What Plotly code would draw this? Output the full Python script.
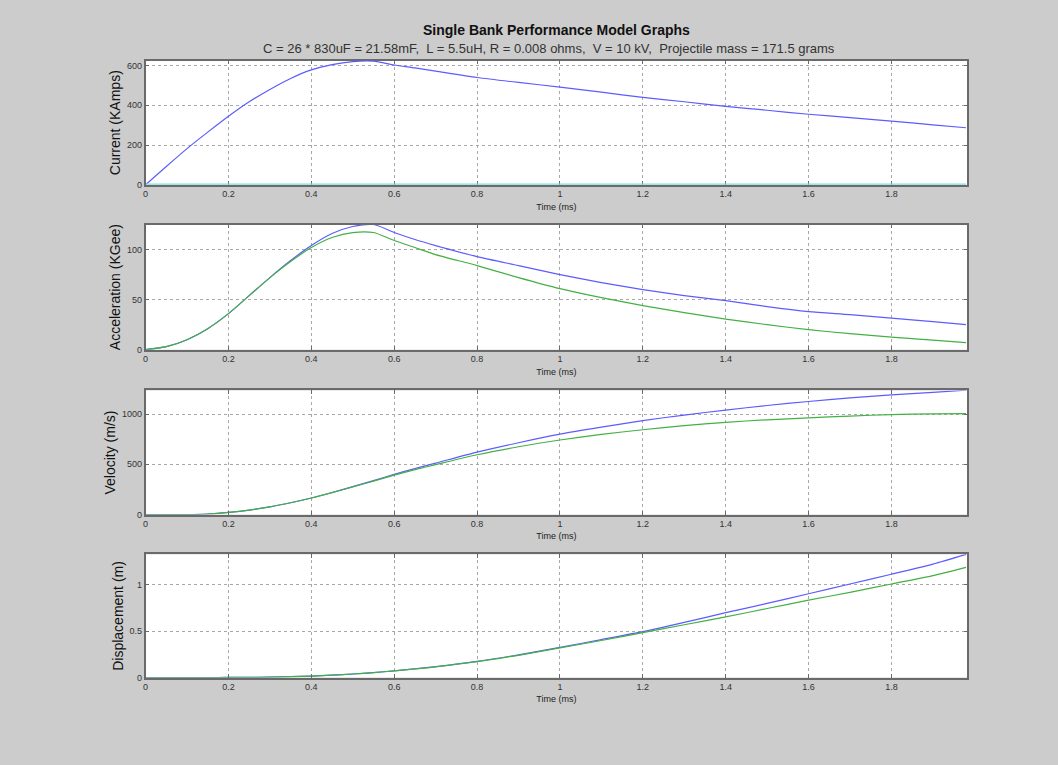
import plotly.graph_objects as go

# Time base (ms)
t_ms = [0, 0.05, 0.1, 0.15, 0.2, 0.25, 0.3, 0.35, 0.4, 0.45, 0.5, 0.55, 0.6, 0.65,
        0.7, 0.8, 0.9, 1.0, 1.1, 1.2, 1.3, 1.4, 1.5, 1.6, 1.7, 1.8, 1.9, 1.98]

# Bank current (KAmps) and zero reference line
current_ka = [0, 92, 182, 265, 345, 418, 480, 535, 578, 605, 620, 622, 603, 588,
              572, 540, 515, 492, 466, 440, 418, 395, 375, 355, 338, 320, 302, 287]
current_zero = [0] * len(t_ms)

# Acceleration (KGee)
accel_a = [0, 3, 10, 21, 36, 54, 72, 89, 104, 116, 123, 125, 117, 110,
           104, 93, 84, 75, 67, 60, 54, 49, 43, 38, 35, 31.6, 28, 25]
accel_b = [0, 3, 10, 21, 36, 54, 72, 88, 102, 112, 117, 117, 109, 102,
           95, 84, 72, 61, 52, 44, 37, 30.6, 25, 20, 16, 12.5, 9.5, 7]

# Velocity (m/s)
vel_a = [0, 0, 0, 6, 22, 45, 77, 118, 165, 220, 278, 338, 400, 458,
         512, 622, 715, 800, 870, 935, 990, 1040, 1085, 1125, 1160, 1191, 1215, 1237]
vel_b = [0, 0, 0, 6, 22, 45, 77, 118, 165, 219, 276, 333, 392, 447,
         497, 595, 675, 742, 798, 844, 885, 918, 943, 962, 980, 995, 1002, 1005]

# Displacement (m)
disp_a = [0, 0, 0, 0, 0.001, 0.002, 0.004, 0.009, 0.016, 0.026, 0.038, 0.054, 0.072, 0.094,
          0.118, 0.175, 0.245, 0.325, 0.41, 0.495, 0.595, 0.70, 0.80, 0.905, 1.01, 1.115, 1.225, 1.33]
disp_b = [0, 0, 0, 0, 0.001, 0.002, 0.004, 0.009, 0.016, 0.026, 0.038, 0.054, 0.072, 0.093,
          0.116, 0.172, 0.24, 0.32, 0.40, 0.485, 0.57, 0.655, 0.745, 0.835, 0.92, 1.01, 1.10, 1.19]

y_titles = ["Current (KAmps)", "Acceleration (KGee)", "Velocity (m/s)", "Displacement (m)"]
y_dticks = [200, 50, 500, 0.5]
y_ranges = [[0, 625], [0, 125], [0, 1235], [0, 1.33]]
x_range = [0, 1.983]

BLUE = "#5c5cff"
GREEN = "#44b044"
CYAN = "#7fe0e0"
FONT = "Liberation Sans, Arial, sans-serif"

W, H = 1058, 765
x_dom = [143 / W, 967 / W]
# panel (top, bottom) in pixels
panels_px = [(61, 186), (226, 352), (393, 518), (558, 682)]

fig = go.Figure()

series = [
    [(current_ka, BLUE, 1.2), (current_zero, CYAN, 2.5)],
    [(accel_a, BLUE, 1.2), (accel_b, GREEN, 1.2)],
    [(vel_a, BLUE, 1.2), (vel_b, GREEN, 1.2)],
    [(disp_a, BLUE, 1.2), (disp_b, GREEN, 1.2)],
]

layout_axes = {}
for i, (top, bot) in enumerate(panels_px):
    n = "" if i == 0 else str(i + 1)
    for ys, col, w in series[i]:
        fig.add_trace(go.Scatter(x=t_ms, y=ys, mode="lines",
                                 line=dict(color=col, width=w, shape="spline", smoothing=0.7),
                                 xaxis="x" + n, yaxis="y" + n,
                                 showlegend=False, hoverinfo="skip"))
    common = dict(showgrid=True, gridcolor="#a8a8a8", griddash="dot", gridwidth=1,
                  showline=True, linecolor="#6a6a6a", linewidth=1.5, mirror="ticks",
                  ticks="inside", ticklen=4, tickcolor="#6a6a6a", zeroline=False,
                  tickfont=dict(family=FONT, size=9, color="#333333"))
    layout_axes["xaxis" + n] = dict(
        common, domain=x_dom, anchor="y" + n, range=x_range, dtick=0.2, tick0=0,
        layer="below traces" if i == 0 else "above traces",
        title=dict(text="Time (ms)", font=dict(family=FONT, size=9, color="#222222"), standoff=5),
    )
    layout_axes["yaxis" + n] = dict(
        common, domain=[1 - bot / H, 1 - top / H], anchor="x" + n,
        range=y_ranges[i], dtick=y_dticks[i], tick0=0,
        title=dict(text=y_titles[i], font=dict(family=FONT, size=14, color="#111111"), standoff=3),
    )

fig.update_layout(
    width=W, height=H,
    margin=dict(l=0, r=0, t=0, b=0),
    paper_bgcolor="#cccccc", plot_bgcolor="#ffffff",
    **layout_axes,
    annotations=[
        dict(text="<b>Single Bank Performance Model Graphs</b>", x=555 / W, y=1 - 30 / H,
             xref="paper", yref="paper", showarrow=False, yanchor="middle",
             font=dict(family=FONT, size=14, color="#111111")),
        dict(text="C = 26 * 830uF = 21.58mF,  L = 5.5uH, R = 0.008 ohms,  V = 10 kV,  Projectile mass = 171.5 grams",
             x=548 / W, y=1 - 49 / H, xref="paper", yref="paper", showarrow=False, yanchor="middle",
             font=dict(family=FONT, size=13, color="#333333")),
    ],
)

fig.write_html("out.html")
